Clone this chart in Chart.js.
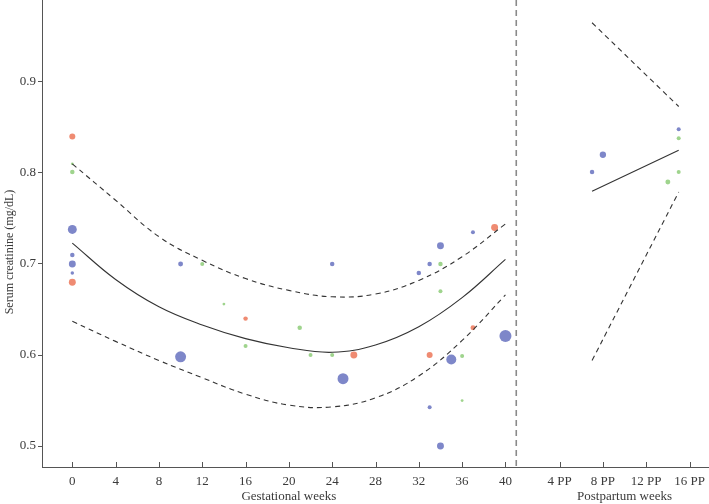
<!DOCTYPE html>
<html>
<head>
<meta charset="utf-8">
<script src="https://cdn.jsdelivr.net/npm/chart.js@4.4.0/dist/chart.umd.min.js"></script>
<style>
  html, body { margin: 0; padding: 0; background: #fff; }
  #wrap { width: 709px; height: 504px; }
</style>
</head>
<body>
<div id="wrap"><canvas id="chart" width="709" height="504"></canvas></div>
<script>
// Postpartum weeks are placed after delivery (week 41): position = 41 + PP week
const deliveryWeek = 41;

const xTickValues = [0, 4, 8, 12, 16, 20, 24, 28, 32, 36, 40, 45, 49, 53, 57];
const xTickLabels = ["0", "4", "8", "12", "16", "20", "24", "28", "32", "36", "40", "4 PP", "8 PP", "12 PP", "16 PP"];
const yTickValues = [0.5, 0.6, 0.7, 0.8, 0.9];

// fitted curve (pregnancy) with confidence band
const gestWeeks = [0, 4, 8, 12, 16, 20, 24, 28, 32, 36, 40];
const fitMean  = [0.723, 0.683, 0.653, 0.633, 0.618, 0.608, 0.603, 0.611, 0.631, 0.663, 0.705];
const fitUpper = [0.810, 0.770, 0.730, 0.704, 0.684, 0.671, 0.664, 0.667, 0.682, 0.708, 0.744];
const fitLower = [0.637, 0.615, 0.594, 0.575, 0.557, 0.545, 0.543, 0.553, 0.577, 0.616, 0.666];

// postpartum fit
const ppWeeks = [48, 56];
const ppMean  = [0.780, 0.825];
const ppUpper = [0.965, 0.873];
const ppLower = [0.594, 0.779];

// study points (x position, creatinine, relative weight)
const blueX = [0, 0, 0, 0, 10, 10, 24, 25, 32, 33, 34, 37, 40, 35, 33, 34, 48, 49, 56];
const blueY = [0.738, 0.710, 0.700, 0.690, 0.700, 0.598, 0.700, 0.574, 0.690, 0.700, 0.720, 0.735, 0.621, 0.595, 0.5425, 0.500, 0.801, 0.820, 0.848];
const blueW = [20, 5, 12, 3, 6, 30, 5, 30, 5, 5, 12, 4, 36, 25, 4, 12, 5, 10, 4];

const orangeX = [0, 0, 16, 26, 33, 37, 39];
const orangeY = [0.840, 0.680, 0.640, 0.600, 0.600, 0.630, 0.740];
const orangeW = [9, 12, 5, 12, 9, 6, 12];

const greenX = [0, 0, 12, 14, 16, 21, 22, 24, 34, 34, 36, 36, 55, 56, 56];
const greenY = [0.810, 0.801, 0.700, 0.656, 0.610, 0.630, 0.600, 0.600, 0.700, 0.670, 0.599, 0.550, 0.790, 0.838, 0.801];
const greenW = [2, 5, 4, 2, 4, 5, 4, 4, 5, 4, 4, 2, 6, 4, 4];

const textColor = "#3a3a3a";
const axisColor = "#555";
const fontFamily = "'Liberation Serif', 'DejaVu Serif', serif";

function toPoints(xs, ys) {
  return xs.map((x, i) => ({ x: x, y: ys[i] }));
}

function pointSet(xs, ys, ws, color) {
  return {
    data: toPoints(xs, ys),
    backgroundColor: color,
    borderWidth: 0,
    pointRadius: ctx => Math.sqrt(ws[ctx.dataIndex]),
    pointHoverRadius: ctx => Math.sqrt(ws[ctx.dataIndex]),
    order: 2
  };
}

function lineSet(xs, ys, dashed) {
  return {
    data: toPoints(xs, ys),
    showLine: true,
    borderColor: "#333",
    borderWidth: 1.1,
    borderDash: dashed ? [5, 4] : [],
    pointRadius: 0,
    tension: 0.4,
    fill: false,
    order: 1
  };
}

// axes run right to the canvas edges
function noPadding(s) {
  s.paddingLeft = s.paddingRight = s.paddingTop = s.paddingBottom = 0;
}

const extras = {
  id: "extras",
  beforeDatasetsDraw(chart) {
    const { ctx, chartArea, scales } = chart;
    const x = scales.x.getPixelForValue(deliveryWeek);
    ctx.save();
    ctx.strokeStyle = "#8a8a8a";
    ctx.lineWidth = 1.6;
    ctx.setLineDash([6, 4]);
    ctx.beginPath();
    ctx.moveTo(x, chartArea.top);
    ctx.lineTo(x, chartArea.bottom);
    ctx.stroke();
    ctx.restore();

    // x ticks point up into the plot
    ctx.save();
    ctx.strokeStyle = axisColor;
    ctx.lineWidth = 1;
    ctx.beginPath();
    xTickValues.forEach(v => {
      const px = Math.round(scales.x.getPixelForValue(v)) + 0.5;
      ctx.moveTo(px, chartArea.bottom);
      ctx.lineTo(px, chartArea.bottom - 5);
    });
    ctx.stroke();
    ctx.restore();
  },
  afterDraw(chart) {
    const { ctx, scales } = chart;
    ctx.save();
    ctx.fillStyle = textColor;
    ctx.font = "13px " + fontFamily;
    ctx.textAlign = "center";
    ctx.textBaseline = "middle";
    const g = (scales.x.getPixelForValue(0) + scales.x.getPixelForValue(40)) / 2;
    const p = (scales.x.getPixelForValue(45) + scales.x.getPixelForValue(57)) / 2;
    ctx.fillText("Gestational weeks", g, 497);
    ctx.fillText("Postpartum weeks", p, 497);
    ctx.translate(10, 252);
    ctx.rotate(-Math.PI / 2);
    ctx.font = "12px " + fontFamily;
    ctx.fillText("Serum creatinine (mg/dL)", 0, 0);
    ctx.restore();
  }
};

new Chart(document.getElementById("chart").getContext("2d"), {
  type: "scatter",
  data: {
    datasets: [
      lineSet(gestWeeks, fitMean, false),
      lineSet(gestWeeks, fitUpper, true),
      lineSet(gestWeeks, fitLower, true),
      lineSet(ppWeeks, ppMean, false),
      lineSet(ppWeeks, ppUpper, true),
      lineSet(ppWeeks, ppLower, true),
      pointSet(blueX, blueY, blueW, "#7e87c9"),
      pointSet(orangeX, orangeY, orangeW, "#ef8b72"),
      pointSet(greenX, greenY, greenW, "#9fd48d")
    ]
  },
  options: {
    responsive: false,
    animation: false,
    layout: { padding: 0, autoPadding: false },
    plugins: {
      legend: { display: false },
      tooltip: { enabled: false }
    },
    scales: {
      x: {
        type: "linear",
        min: -2.8,
        max: 58.8,
        afterBuildTicks: s => { s.ticks = xTickValues.map(v => ({ value: v })); },
        afterFit: s => {
          s.height = 37;
          noPadding(s);
        },
        grid: { display: false, drawOnChartArea: false, drawTicks: false },
        border: { display: true, color: axisColor, width: 1 },
        ticks: {
          autoSkip: false,
          maxRotation: 0,
          padding: 7,
          color: textColor,
          font: { family: fontFamily, size: 13 },
          callback: (v, i) => xTickLabels[i]
        }
      },
      y: {
        min: 0.477,
        max: 0.99,
        afterBuildTicks: s => { s.ticks = yTickValues.map(v => ({ value: v })); },
        afterFit: s => {
          s.width = 42;
          noPadding(s);
        },
        grid: { drawOnChartArea: false, drawTicks: true, tickLength: 4, color: axisColor },
        border: { display: true, color: axisColor, width: 1 },
        ticks: {
          padding: 2,
          color: textColor,
          font: { family: fontFamily, size: 13 },
          callback: v => v.toFixed(1)
        }
      }
    }
  },
  plugins: [extras]
});
</script>
</body>
</html>
